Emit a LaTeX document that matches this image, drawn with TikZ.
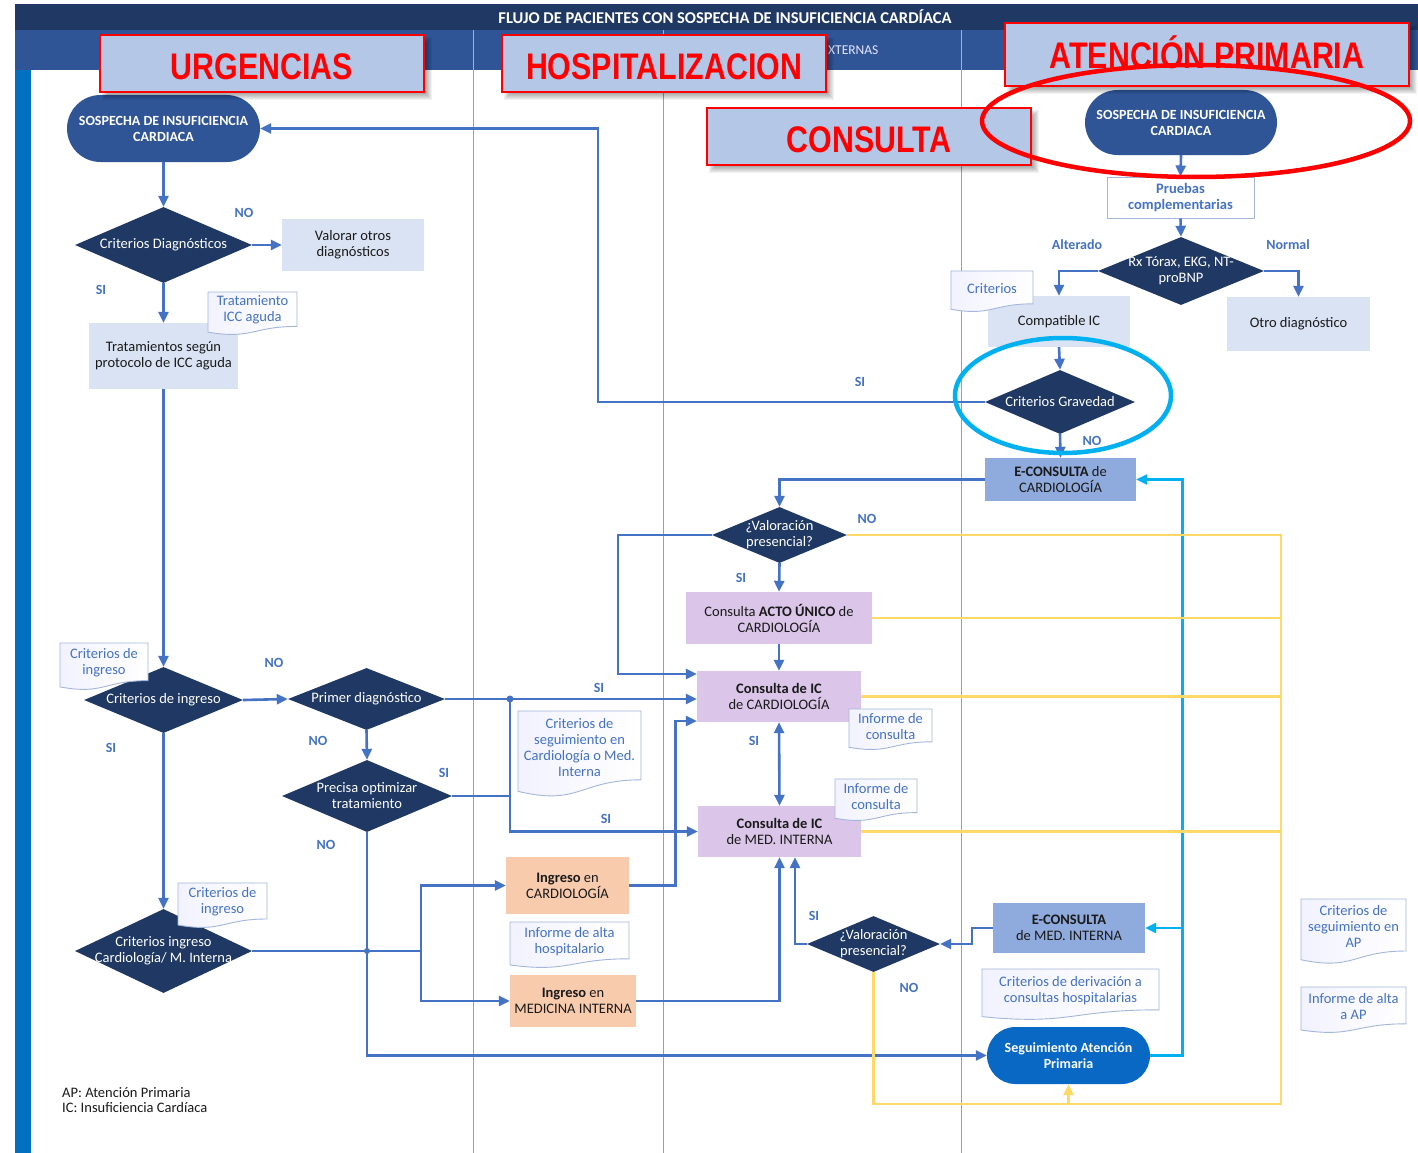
\documentclass[tikz,border=0pt]{standalone}
\usepackage{fontspec}
\setmainfont{Carlito}
\newfontfamily\bannerfont[FakeStretch=0.82]{Liberation Sans Bold}
\usetikzlibrary{arrows.meta,shapes.geometric,shapes.misc,calc}

\definecolor{hdark}{HTML}{203864}
\definecolor{hmid}{HTML}{2F5597}
\definecolor{leftbar}{HTML}{0070C0}
\definecolor{colline}{HTML}{8E9FCB}
\definecolor{navy}{HTML}{1F3864}
\definecolor{sospblue}{HTML}{2F5597}
\definecolor{segblue}{HTML}{0868C4}
\definecolor{lightbox}{HTML}{DAE3F3}
\definecolor{ebox}{HTML}{8FAADC}
\definecolor{lilac}{HTML}{DBC6EA}
\definecolor{peach}{HTML}{F8CBAD}
\definecolor{cblue}{HTML}{4472C4}
\definecolor{yel}{HTML}{FFD966}
\definecolor{cyanline}{HTML}{00B0F0}
\definecolor{docborder}{HTML}{A4B6DA}
\definecolor{bannerfill}{HTML}{B4C7E7}
\definecolor{darktext}{HTML}{1A1A1A}

\tikzset{
  base/.style={inner sep=0pt, align=center, font=\fontsize{14.5}{16}\selectfont},
  dia/.style={base, diamond, fill=navy},
  diatext/.style={base, text=white},
  stad/.style={base, rounded rectangle, fill=sospblue, text=white,
    font=\bfseries\fontsize{14}{16}\selectfont},
  segstad/.style={stad, fill=segblue},
  lbox/.style={base, rectangle, fill=lightbox, text=darktext},
  ebx/.style={base, rectangle, fill=ebox, text=darktext},
  lilacbox/.style={base, rectangle, fill=lilac, text=darktext},
  peachbox/.style={base, rectangle, fill=peach, text=darktext},
  pbox/.style={base, rectangle, fill=white, draw=docborder, line width=1pt,
    text=cblue, font=\bfseries\fontsize{14.5}{16}\selectfont},
  lbl/.style={inner sep=0pt, text=cblue, font=\bfseries\fontsize{14}{16}\selectfont},
  doctext/.style={base, text=cblue},
  docline/.style={draw=docborder, line width=0.9pt, left color=blue!5!white, right color=white},
  conn/.style={draw=cblue, line width=2.6pt},
  arr/.style={conn, -{Triangle[length=11pt,width=10pt]}},
  dblarr/.style={conn, {Triangle[length=11pt,width=10pt]}-{Triangle[length=11pt,width=10pt]}},
  cyarr/.style={draw=cyanline, line width=2.6pt, -{Triangle[length=11pt,width=10pt]}},
  yline/.style={draw=yel, line width=2.6pt},
  yarr/.style={yline, -{Triangle[length=11pt,width=10pt]}},
  colsep/.style={draw=colline, line width=1pt},
  banner/.style={rectangle, fill=bannerfill, draw=red, line width=2pt, inner sep=0pt},
  bannertext/.style={inner sep=0pt, text=red, font=\bannerfont\fontsize{37}{37}\selectfont},
}

% diamond decision with its label laid over it
\newcommand{\decision}[6]{%
  \node[dia, minimum width=#4, minimum height=#5] (#1) at (#2,#3) {};
  \node[diatext] (#1-t) at (#1.center) {#6};
}
% document symbol with a wavy lower edge
\newcommand{\docnote}[6]{%
  \path[docline] (#2,#3) -- (#4,#3) -- (#4,{#3+0.80*(#5-#3)})
    .. controls ({(#2+#4)/2},{#3+0.80*(#5-#3)}) and ({(#2+#4)/2},{#3+1.107*(#5-#3)})
    .. (#2,{#3+0.934*(#5-#3)}) -- cycle;
  \node[doctext] (#1) at ({(#2+#4)/2},{#3+0.42*(#5-#3)}) {#6};
}
% section banner with a soft shadow below right; #7 moves the label down
\newcommand{\settingbanner}[7]{%
  \foreach \k in {1,...,7} {
    \pgfmathsetmacro{\m}{4-\k}
    \fill[black, opacity=0.05]
      ({#2-#4/2+5-\m},{#3-#5/2+5-\m}) rectangle ({#2+#4/2+5+\m},{#3+#5/2+5+\m});
  }
  \node[banner, minimum width=#4, minimum height=#5] (#1) at (#2,#3) {};
  \node[bannertext] (#1-t) at (#2,{#3+#7}) {#6};
}

\begin{document}
\begin{tikzpicture}[x=1pt,y=-1pt]
\useasboundingbox (0,0) rectangle (1418,1153);
\fill[white] (0,0) rectangle (1418,1153);

% header bands and lanes
\fill[hdark] (15,4) rectangle (1418,30);
\fill[hmid] (15,30) rectangle (1418,70);
\fill[leftbar] (15,70) rectangle (31,1153);
\node[inner sep=0pt, text=white, font=\bfseries\fontsize{16.5}{18}\selectfont] (title) at (725,17)
  {FLUJO DE PACIENTES CON SOSPECHA DE INSUFICIENCIA CARDÍACA};
\node[inner sep=0pt, anchor=west, text=white!90!blue, font=\fontsize{13.5}{15}\selectfont] (lanecons) at (828,50)
  {XTERNAS};
\foreach \cx in {473,663,961} {
  \draw[colsep] (\cx,70) -- (\cx,1153);
  \draw[draw=white!55!hmid, line width=0.8pt] (\cx,30) -- (\cx,70);
}

% ---------- Urgencias ----------
\node[stad, minimum width=193, minimum height=67] (sosp1) at (163.5,128.5)
  {SOSPECHA DE INSUFICIENCIA\\CARDIACA};
\decision{cdiag}{163.5}{245}{177}{76}{Criterios Diagnósticos}
\node[lbox, minimum width=142, minimum height=52] (valorar) at (353,245) {Valorar otros\\diagnósticos};
\node[lbox, minimum width=149, minimum height=66] (trat) at (163.5,356) {Tratamientos según\\protocolo de ICC aguda};
\decision{cing}{163.5}{700}{159}{66}{Criterios de ingreso}
\decision{primer}{366.5}{699}{157}{62}{Primer diagnóstico}
\decision{precisa}{367}{796}{170}{72}{Precisa optimizar\\tratamiento}
\decision{cicm}{163.5}{951}{177}{84}{Criterios ingreso\\Cardiología/ M. Interna}

% ---------- Hospitalización ----------
\node[peachbox, minimum width=123, minimum height=57] (ingcard) at (567.5,885.5) {\textbf{Ingreso} en\\CARDIOLOGÍA};
\node[peachbox, minimum width=126, minimum height=52] (ingmi) at (573,1001) {\textbf{Ingreso} en\\MEDICINA INTERNA};

% ---------- Consultas ----------
\decision{val1}{779.5}{535}{135}{56}{¿Valoración\\presencial?}
\node[lilacbox, minimum width=186, minimum height=52] (acto) at (779,618) {Consulta \textbf{ACTO ÚNICO} de\\CARDIOLOGÍA};
\node[lilacbox, minimum width=164, minimum height=51] (icc) at (779,696.5) {\textbf{Consulta de IC}\\de CARDIOLOGÍA};
\node[lilacbox, minimum width=163, minimum height=51] (icmi) at (779.5,831.5) {\textbf{Consulta de IC}\\de MED. INTERNA};
\decision{val2}{873.5}{944}{133}{56}{¿Valoración\\presencial?}

% ---------- Atención primaria ----------
\node[stad, minimum width=192, minimum height=65] (sosp2) at (1181,122.5)
  {SOSPECHA DE INSUFICIENCIA\\CARDIACA};
\node[pbox, minimum width=147, minimum height=41] (pruebas) at (1180.5,197.5) {Pruebas\\complementarias};
\decision{rx}{1181}{271}{166}{68}{Rx Tórax, EKG, NT-\\proBNP}
\node[lbox, minimum width=142, minimum height=51] (compat) at (1059,321.5) {Compatible IC};
\node[lbox, minimum width=143, minimum height=54] (otro) at (1298.5,324) {Otro diagnóstico};
\decision{cgrav}{1060}{402}{150}{64}{Criterios Gravedad}
\node[ebx, minimum width=151, minimum height=43] (econscard) at (1060.5,479.5) {\textbf{E-CONSULTA} de\\CARDIOLOGÍA};
\node[ebx, minimum width=152, minimum height=50] (econsmi) at (1069,928) {\textbf{E-CONSULTA}\\de MED. INTERNA};
\node[segstad, minimum width=163, minimum height=57] (segap) at (1068.5,1055.5) {Seguimiento Atención\\Primaria};

% ---------- connectors ----------
\draw[arr] (sosp1.south) -- (cdiag.north);
\draw[arr] (cdiag.east) -- (valorar.west);
\draw[arr] (cdiag.south) -- (trat.north);
\draw[arr] (trat.south) -- (cing.north);
\draw[arr] (cing.east) -- (primer.west);
\draw[arr] (cing.south) -- (cicm.north);
\draw[arr] (primer.south) -- (precisa.north);
\draw[arr] (primer.east) -- (primer.east -| icc.west);
\coordinate (jtop) at (510,699);
\coordinate (jbot) at (510,831.5);
\draw[conn] (precisa.east) -| (jtop);
\draw[arr] (jtop) -- (jbot) -- (icmi.west);
\fill[cblue] (jtop) circle (3.5pt);
\coordinate (jc) at (421,951);
\draw[conn] (cicm.east) -- (jc);
\draw[arr] (jc) |- (ingcard.west);
\draw[arr] (jc) |- (ingmi.west);
\draw[arr] (precisa.south) |- (segap.west);
\fill[cblue] (367,951) circle (3pt);
\draw[arr] (ingcard.east) -- ++(46,0) |- ($(icc.west)+(0,24.5)$);
\draw[arr] (ingmi.east) -| (icmi.south);
\draw[arr] (val2.west) -| ($(icmi.south)+(15.5,0)$);
\draw[arr] (econsmi.west) -- ++(-21,0) |- (val2.east);
\draw[arr] (econscard.west) -| (val1.north);
\draw[arr] (val1.south) -- (acto.north);
\draw[arr] (acto.south) -- (icc.north);
\draw[arr] (val1.west) -- ++(-94,0) |- ($(icc.west)+(0,-22.5)$);
\draw[dblarr] (icc.south) -- (icmi.north);
\draw[arr] (cgrav.west) -- ++(-387,0) |- (sosp1.east);
\draw[arr] (cgrav.south) -- (econscard.north);
\draw[arr] (compat.south) -- (cgrav.north);
\draw[arr] (rx.west) -| (compat.north);
\draw[arr] (rx.east) -| (otro.north);
\draw[arr] (sosp2.south) -- (pruebas.north);
\draw[arr] (pruebas.south) -- (rx.north);

% follow-up loop back from primary care
\draw[cyarr] (segap.east) -- ++(32,0) |- (econscard.east);
\draw[cyarr] ($(segap.east)+(32,0)$) |- (econsmi.east);

% discharge paths to primary care
\coordinate (ytop) at (1281,535);
\coordinate (ybot) at (1281,1104);
\draw[yline] (val1.east) -- (ytop) -- (ybot) -| (val2.south);
\draw[yline] (acto.east) -- (acto.east -| ytop);
\draw[yline] (icc.east) -- (icc.east -| ytop);
\draw[yline] (icmi.east) -- (icmi.east -| ytop);
\draw[yarr] (segap.south |- ybot) -- (segap.south);

% ---------- branch labels ----------
\node[lbl] (l1) at (244,213) {NO};
\node[lbl] (l2) at (101,290) {SI};
\node[lbl] (l3) at (274,663) {NO};
\node[lbl] (l4) at (111,748) {SI};
\node[lbl] (l5) at (318,741) {NO};
\node[lbl] (l6) at (444,773) {SI};
\node[lbl] (l7) at (326,845) {NO};
\node[lbl] (l8) at (599,688) {SI};
\node[lbl] (l9) at (606,819) {SI};
\node[lbl] (l10) at (860,382) {SI};
\node[lbl] (l11) at (1092,441) {NO};
\node[lbl] (l12) at (867,519) {NO};
\node[lbl] (l13) at (741,578) {SI};
\node[lbl] (l14) at (754,741) {SI};
\node[lbl] (l15) at (814,916) {SI};
\node[lbl] (l16) at (909,988) {NO};
\node[lbl] (l17) at (1077,245) {Alterado};
\node[lbl] (l18) at (1288,245) {Normal};

% ---------- documents ----------
\docnote{dtrat}{208}{292}{297}{335}{Tratamiento\\ICC aguda}
\docnote{dcing}{60}{643}{148}{690}{Criterios de\\ingreso}
\docnote{dcicm}{178}{883}{267}{928}{Criterios de\\ingreso}
\docnote{dseg}{518}{711}{641}{797}{Criterios de\\seguimiento en\\Cardiología o Med.\\Interna}
\docnote{dalta}{510}{922}{629}{968}{Informe de alta\\hospitalario}
\docnote{dinf1}{849}{709}{932}{750}{Informe de\\consulta}
\docnote{dinf2}{835}{779}{917}{821}{Informe de\\consulta}
\docnote{dcrit}{951}{271}{1033}{312}{Criterios}
\docnote{dderiv}{982}{969}{1159}{1020}{Criterios de derivación a\\consultas hospitalarias}
\docnote{dsegap}{1301}{899}{1406}{964}{Criterios de\\seguimiento en\\AP}
\docnote{daltaap}{1301}{987}{1406}{1033}{Informe de alta\\a AP}

% abbreviations
\node[inner sep=0pt, anchor=west, align=left, text=darktext, font=\fontsize{14.5}{15}\selectfont] (legend) at (62,1100.5)
  {AP: Atención Primaria\\IC: Insuficiencia Cardíaca};

% ---------- setting banners and highlights ----------
\settingbanner{bU}{262}{63.5}{324}{57}{URGENCIAS}{3.5}
\settingbanner{bH}{664}{63.5}{324}{57}{HOSPITALIZACION}{3.5}
\settingbanner{bC}{869}{136.5}{324}{57}{CONSULTA}{3}
\settingbanner{bA}{1207}{54.5}{404}{63}{ATENCIÓN PRIMARIA}{-2}

\draw[red, line width=4.5pt] (1196,121) ellipse [x radius=214pt, y radius=56pt];
\draw[cyanline, line width=4.5pt] (1063,395.5) ellipse [x radius=108pt, y radius=57.5pt];
\end{tikzpicture}
\end{document}
